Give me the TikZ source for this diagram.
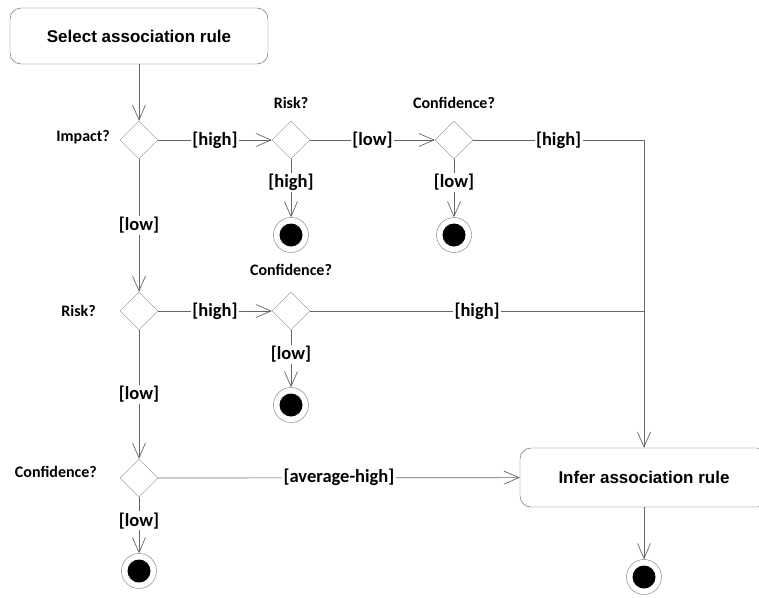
\documentclass[tikz,border=0pt]{standalone}
\usepackage{fontspec}
\setmainfont{Carlito}
\newfontfamily\actfont{Liberation Sans}
\usetikzlibrary{shapes.geometric,arrows.meta,positioning}

\tikzset{
  action/.style={draw=black!65, rounded corners=11pt, fill=white, inner sep=0pt,
    font=\actfont\bfseries\fontsize{17}{20}\selectfont},
  decision/.style={diamond, draw=black!45, minimum width=38pt, minimum height=38pt, inner sep=0pt},
  endnode/.style={circle, draw=black!55, minimum size=35pt, inner sep=0pt,
    path picture={\fill[black] (path picture bounding box.center) circle (11.5pt);}},
  guard/.style={fill=white, inner sep=1.5pt, font=\bfseries\fontsize{18.5}{20}\selectfont},
  question/.style={inner sep=0pt, font=\bfseries\fontsize{16}{18}\selectfont},
  flow/.style={draw=black!60, line width=0.7pt, -{Straight Barb[length=15pt,width=13pt]}},
  mergeline/.style={draw=black!60, line width=0.7pt}
}

\begin{document}
\begin{tikzpicture}[x=1pt, y=-1pt]
    \useasboundingbox (0,0) rectangle (759,597);

    % Actions
    \node[action, minimum width=258pt, minimum height=56pt] (select) at (139,36) {Select association rule};
    \node[action, minimum width=248pt, minimum height=59pt] (infer) at (644,477.5) {Infer association rule};

    % Decisions
    \node[decision] (impact) at (139,140) {};
    \node[decision] (riskA) at (291,140) {};
    \node[decision] (confA) at (454,140) {};
    \node[decision] (riskB) at (139,311) {};
    \node[decision] (confB) at (291,311) {};
    \node[decision] (confC) at (139,478) {};

    % Questions
    \node[question, anchor=east] (qimpact) at (110,137) {Impact?};
    \node[question] (qriskA) at (291,103) {Risk?};
    \node[question] (qconfA) at (454,103) {Confidence?};
    \node[question, anchor=east] (qriskB) at (96,311) {Risk?};
    \node[question] (qconfB) at (291,270) {Confidence?};
    \node[question, anchor=east] (qconfC) at (97,472) {Confidence?};

    % Final nodes
    \node[endnode] (endA) at (291,235) {};
    \node[endnode] (endB) at (454,235) {};
    \node[endnode] (endC) at (291,405) {};
    \node[endnode] (endD) at (139,571) {};
    \node[endnode] (endE) at (644,577) {};

    % Flows
    \draw[flow] (select) -- (impact);
    \draw[flow] (impact) -- node[guard] {[high]} (riskA);
    \draw[flow] (riskA) -- node[guard] {[low]} (confA);
    \draw[flow] (confA.east) -| node[guard, pos=0.25] {[high]} (infer.north);
    \draw[flow] (riskA) -- node[guard, pos=0.4] {[high]} (endA);
    \draw[flow] (confA) -- node[guard, pos=0.4] {[low]} (endB);

    \draw[flow] (impact) -- node[guard] {[low]} (riskB);
    \draw[flow] (riskB) -- node[guard] {[high]} (confB);
    \draw[mergeline] (confB.east) -- node[guard] {[high]} (confB.east -| infer.north);
    \draw[flow] (confB) -- node[guard, pos=0.42] {[low]} (endC);

    \draw[flow] (riskB) -- node[guard] {[low]} (confC);
    \draw[flow] (confC) -- node[guard] {[average-high]} (infer);
    \draw[flow] (confC) -- node[guard, pos=0.42] {[low]} (endD);

    \draw[flow] (infer) -- (endE);
\end{tikzpicture}
\end{document}
